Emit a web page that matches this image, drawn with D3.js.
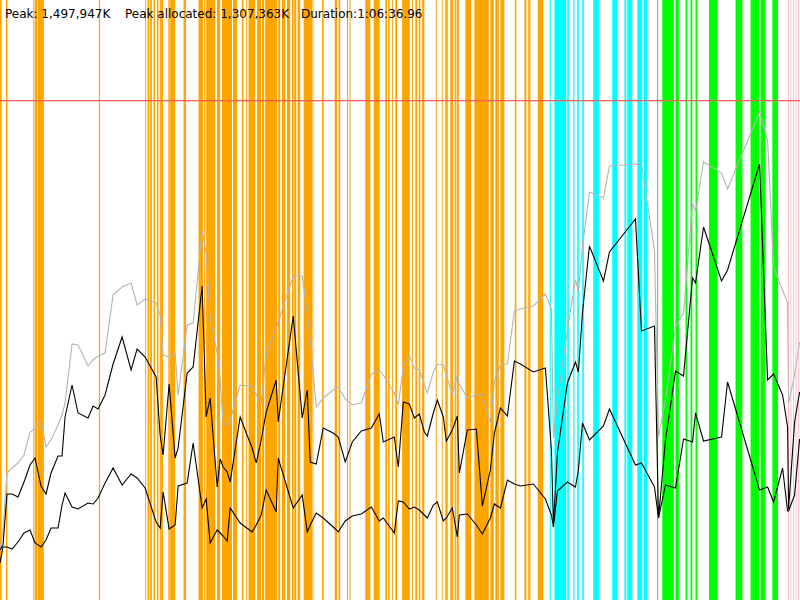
<!DOCTYPE html>
<html>
<head>
<meta charset="utf-8">
<script src="https://cdn.jsdelivr.net/npm/d3@7"></script>
<style>
  body { margin: 0; background: #fff; }
  svg { display: block; }
  text { font-family: "DejaVu Sans", sans-serif; font-size: 12px; fill: #000; }
</style>
</head>
<body>
<svg width="800" height="600"></svg>
<script>
// run summary
const peakK = 1497947
const peakAllocatedK = 1307363
const durationLabel = '1:06:36.96'
const durationSec = 3997

// sample times (seconds)
const times = [0, 15, 35, 60, 90, 120, 150, 175, 205, 230, 255, 290, 310, 325, 360, 390, 440, 465, 490, 525,
  565, 610, 655, 685, 725, 780, 800, 815, 845, 875, 890, 935, 965, 1010, 1030, 1050, 1085, 1100, 1115, 1135,
  1150, 1200, 1240, 1260, 1280, 1305, 1330, 1380, 1390, 1465, 1510, 1535, 1550, 1580, 1615, 1665, 1690, 1725, 1760, 1805,
  1855, 1895, 1915, 1970, 1990, 2015, 2045, 2070, 2095, 2120, 2135, 2165, 2185, 2215, 2230, 2260, 2285, 2295, 2335, 2380,
  2410, 2450, 2470, 2500, 2535, 2570, 2600, 2665, 2725, 2755, 2765, 2785, 2835, 2875, 2890, 2910, 2945, 3015, 3045, 3175,
  3205, 3270, 3290, 3325, 3375, 3415, 3460, 3475, 3515, 3605, 3635, 3795, 3835, 3865, 3910, 3935, 3940, 3970, 3995]

// memory, in thousands of K
const heapSize = [150, 210, 381, 396, 411, 435, 504, 513, 540, 459, 480, 525, 555, 591, 768, 765, 702, 720, 732, 741,
  915, 939, 951, 885, 903, 891, 855, 735, 729, 741, 615, 825, 831, 1110, 1041, 846, 741, 660, 531, 522,
  540, 645, 642, 642, 615, 591, 738, 816, 834, 972, 972, 861, 780, 579, 606, 630, 639, 603, 585, 591,
  678, 690, 675, 621, 585, 699, 735, 696, 690, 645, 621, 684, 708, 705, 675, 615, 675, 648, 606, 615,
  618, 531, 654, 705, 708, 867, 873, 882, 918, 873, 486, 600, 810, 960, 927, 1059, 1224, 1206, 1302, 1308,
  1305, 1050, 489, 600, 819, 861, 1191, 1164, 1314, 1281, 1233, 1464, 1380, 999, 930, 891, 591, 675, 774]

const allocated = [150, 165, 318, 318, 309, 354, 405, 426, 342, 318, 381, 432, 432, 549, 645, 561, 546, 582, 573, 615,
  708, 789, 690, 753, 729, 669, 495, 435, 648, 426, 456, 681, 699, 942, 549, 606, 339, 423, 399, 384,
  354, 549, 486, 456, 411, 480, 564, 660, 534, 852, 546, 630, 414, 408, 516, 501, 489, 414, 474, 507,
  516, 558, 474, 489, 399, 594, 588, 546, 558, 504, 492, 561, 600, 549, 477, 510, 552, 381, 510, 513,
  282, 390, 501, 576, 552, 717, 708, 684, 696, 450, 225, 441, 651, 714, 684, 861, 1062, 957, 1044, 1143,
  807, 822, 246, 480, 687, 672, 966, 951, 1119, 957, 990, 1308, 660, 678, 615, 519, 273, 534, 624]

const retained = [111, 159, 159, 153, 174, 201, 210, 171, 159, 180, 216, 216, 285, 321, 279, 273, 291, 288, 306, 351,
  396, 345, 378, 366, 336, 234, 216, 324, 213, 225, 342, 351, 471, 276, 303, 171, 210, 201, 192, 177,
  276, 231, 213, 204, 225, 255, 330, 264, 426, 276, 315, 204, 225, 261, 246, 219, 204, 237, 252, 258,
  279, 237, 246, 201, 297, 294, 273, 279, 270, 255, 246, 285, 294, 237, 246, 276, 189, 255, 258, 225,
  198, 246, 288, 276, 360, 348, 342, 348, 303, 255, 219, 327, 354, 339, 390, 531, 480, 522, 573, 405,
  411, 339, 246, 345, 336, 483, 474, 561, 477, 489, 654, 330, 339, 294, 396, 267, 267, 315, 483]

// collection events, [start, end] seconds
const youngGC = [[0, 8], [30, 37], [166, 172], [175, 187], [189, 219], [494, 500], [725, 730], [737, 747], [750, 759],
  [767, 775], [784, 792], [800, 814], [841, 848], [850, 875], [917, 929], [992, 1014], [1020, 1025], [1030, 1075],
  [1084, 1100], [1109, 1159], [1164, 1184], [1209, 1217], [1228, 1233], [1242, 1275], [1284, 1304], [1309, 1320],
  [1325, 1384], [1390, 1400], [1409, 1425], [1434, 1450], [1459, 1467], [1470, 1480], [1487, 1500], [1517, 1559],
  [1561, 1566], [1609, 1617], [1672, 1684], [1692, 1700], [1734, 1739], [1746, 1751], [1825, 1850], [1867, 1897],
  [1925, 1934], [1939, 1947], [1959, 1964], [1975, 1984], [2009, 2047], [2058, 2063], [2075, 2084], [2092, 2100],
  [2109, 2120], [2177, 2182], [2207, 2212], [2225, 2237], [2250, 2264], [2272, 2280], [2283, 2292], [2325, 2354],
  [2370, 2442], [2450, 2467], [2475, 2492], [2500, 2520], [2572, 2580], [2620, 2630], [2639, 2650], [2687, 2714]]
const cmsGC = [[2747, 2752], [2770, 2829], [2834, 2842], [2864, 2870], [2884, 2892], [2909, 2917], [2964, 2992],
  [3059, 3084], [3120, 3129], [3134, 3159], [3184, 3209], [3217, 3234]]
const fullGC = [[3283, 3288], [3309, 3367], [3375, 3392], [3425, 3434], [3450, 3459], [3475, 3484], [3542, 3584],
  [3675, 3709], [3750, 3792], [3800, 3825], [3859, 3887]]
const otherGC = [[3937, 3942], [3949, 3954], [3962, 3967], [3974, 3979], [3986, 3991]]

const W = 800, H = 600
const svg = d3.select('svg')

const x = d3.scaleLinear().domain([0, durationSec]).range([0, W])
const y = d3.scaleLinear().domain([0, 1800]).range([H, 0])

function drawEvents(events, color){
  svg.append('g')
    .selectAll('rect')
    .data(events)
    .join('rect')
      .attr('x', d => x(d[0]))
      .attr('width', d => x(d[1]) - x(d[0]))
      .attr('y', 0)
      .attr('height', H)
      .attr('fill', color)
}

drawEvents(youngGC, 'orange')
drawEvents(cmsGC, 'cyan')
drawEvents(fullGC, 'lime')
drawEvents(otherGC, 'pink')

// peak marker
svg.append('line')
  .attr('x1', 0).attr('x2', W)
  .attr('y1', y(peakK / 1000)).attr('y2', y(peakK / 1000))
  .attr('stroke', '#ff5a5a')
  .attr('stroke-width', 1.2)

function drawSeries(values, color){
  const line = d3.line()
    .x((d, i) => x(times[i]))
    .y(d => y(d))
  svg.append('path')
    .datum(values)
    .attr('d', line)
    .attr('fill', 'none')
    .attr('stroke', color)
    .attr('stroke-width', 1.1)
}

drawSeries(heapSize, '#b4b4b4')
drawSeries(allocated, '#000')
drawSeries(retained, '#000')

const fmt = d3.format(',')
const labels = [
  [5, `Peak: ${fmt(peakK)}K`],
  [125, `Peak allocated: ${fmt(peakAllocatedK)}K`],
  [301, `Duration:${durationLabel}`]
]
svg.selectAll('text.info')
  .data(labels)
  .join('text')
    .attr('class', 'info')
    .attr('x', d => d[0])
    .attr('y', 18)
    .text(d => d[1])
</script>
</body>
</html>
